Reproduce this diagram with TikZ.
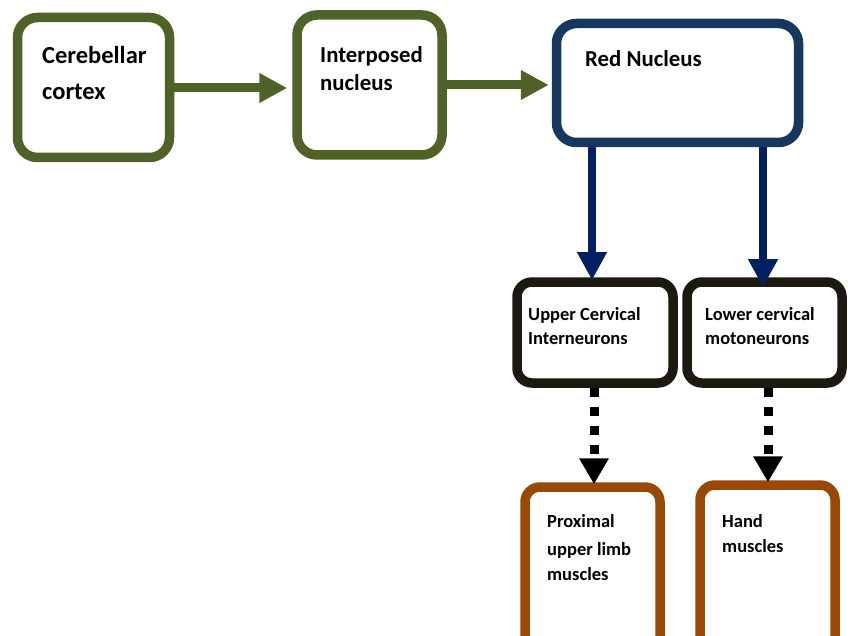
\documentclass[tikz,border=0pt]{standalone}
\usepackage{fontspec}
\setmainfont{Carlito}
\usetikzlibrary{arrows.meta}
\definecolor{olivec}{HTML}{4F6228}
\definecolor{navyb}{HTML}{17375E}
\definecolor{navya}{HTML}{002060}
\definecolor{darkb}{HTML}{1C1A10}
\definecolor{brownc}{HTML}{984807}
\begin{document}
\begin{tikzpicture}[x=1pt,y=-1pt,
  box/.style={draw,line width=9.5pt,rounded corners=20pt,fill=white,inner sep=0pt},
  sbox/.style={draw,line width=9.5pt,rounded corners=15pt,fill=white,inner sep=0pt},
  lbl/.style={anchor=base west,inner sep=0pt},
  big/.style={font=\bfseries\fontsize{24.5}{28}\selectfont},
  mid/.style={font=\bfseries\fontsize{22.8}{28}\selectfont},
  sml/.style={font=\bfseries\fontsize{18.5}{24}\selectfont},
  garrow/.style={draw=olivec,line width=9pt,-{Triangle[width=28pt,length=28pt]}},
  barrow/.style={draw=navya,line width=8.5pt,-{Triangle[width=28pt,length=28pt]}},
  darrow/.style={draw=black,line width=9pt,dash pattern=on 9pt off 10pt,-{Triangle[width=28pt,length=26pt]}}
]
\useasboundingbox (0,0) rectangle (848,636);
% boxes
\node[box,draw=olivec,minimum width=152pt,minimum height=140pt] (cc) at (93.5,87.5) {};
\node[box,draw=olivec,minimum width=145pt,minimum height=140pt] (ip) at (369.5,85) {};
\node[box,draw=navyb,minimum width=242pt,minimum height=119pt] (rn) at (677.5,83) {};
\node[sbox,draw=darkb,minimum width=156pt,minimum height=101pt] (uc) at (595,332.5) {};
\node[sbox,draw=darkb,minimum width=155pt,minimum height=101pt] (lc) at (764.5,332.5) {};
\node[sbox,draw=brownc,minimum width=135pt,minimum height=180pt] (px) at (592.5,577) {};
\node[sbox,draw=brownc,minimum width=135pt,minimum height=180pt] (hm) at (767.5,575) {};
% labels
\node[lbl,big] (t1a) at (42,64) {Cerebellar};
\node[lbl,big] (t1b) at (42,100) {cortex};
\node[lbl,mid] (t2a) at (320,63) {Interposed};
\node[lbl,mid] (t2b) at (320,91) {nucleus};
\node[lbl,mid] (t3) at (585,67) {Red Nucleus};
\node[lbl,sml] (t4a) at (528,320) {Upper Cervical};
\node[lbl,sml] (t4b) at (528,344) {Interneurons};
\node[lbl,sml] (t5a) at (705,320) {Lower cervical};
\node[lbl,sml] (t5b) at (705,344) {motoneurons};
\node[lbl,sml] (t6a) at (547,527) {Proximal};
\node[lbl,sml] (t6b) at (547,555) {upper limb};
\node[lbl,sml] (t6c) at (547,580) {muscles};
\node[lbl,sml] (t7a) at (722,527) {Hand};
\node[lbl,sml] (t7b) at (722,552) {muscles};
% connectors
\coordinate (a1) at (0,88);
\draw[garrow] (cc.east|-a1) -- ([xshift=-5pt]ip.west|-a1);
\coordinate (b1) at (0,85);
\draw[garrow] (ip.east|-b1) -- ([xshift=-3pt]rn.west|-b1);
\coordinate (c1) at (592,0);
\draw[barrow] (rn.south-|c1) -- ([yshift=-3pt]uc.north-|c1);
\coordinate (c2) at (763,0);
\draw[barrow] (rn.south-|c2) -- ([yshift=-10pt]lc.north-|c2);
\coordinate (d1) at (594,0);
\draw[darrow] (uc.south-|d1) -- ([yshift=-2pt]px.north-|d1);
\coordinate (d2) at (768,0);
\draw[darrow] (lc.south-|d2) -- ([yshift=-2pt]hm.north-|d2);
\end{tikzpicture}
\end{document}
